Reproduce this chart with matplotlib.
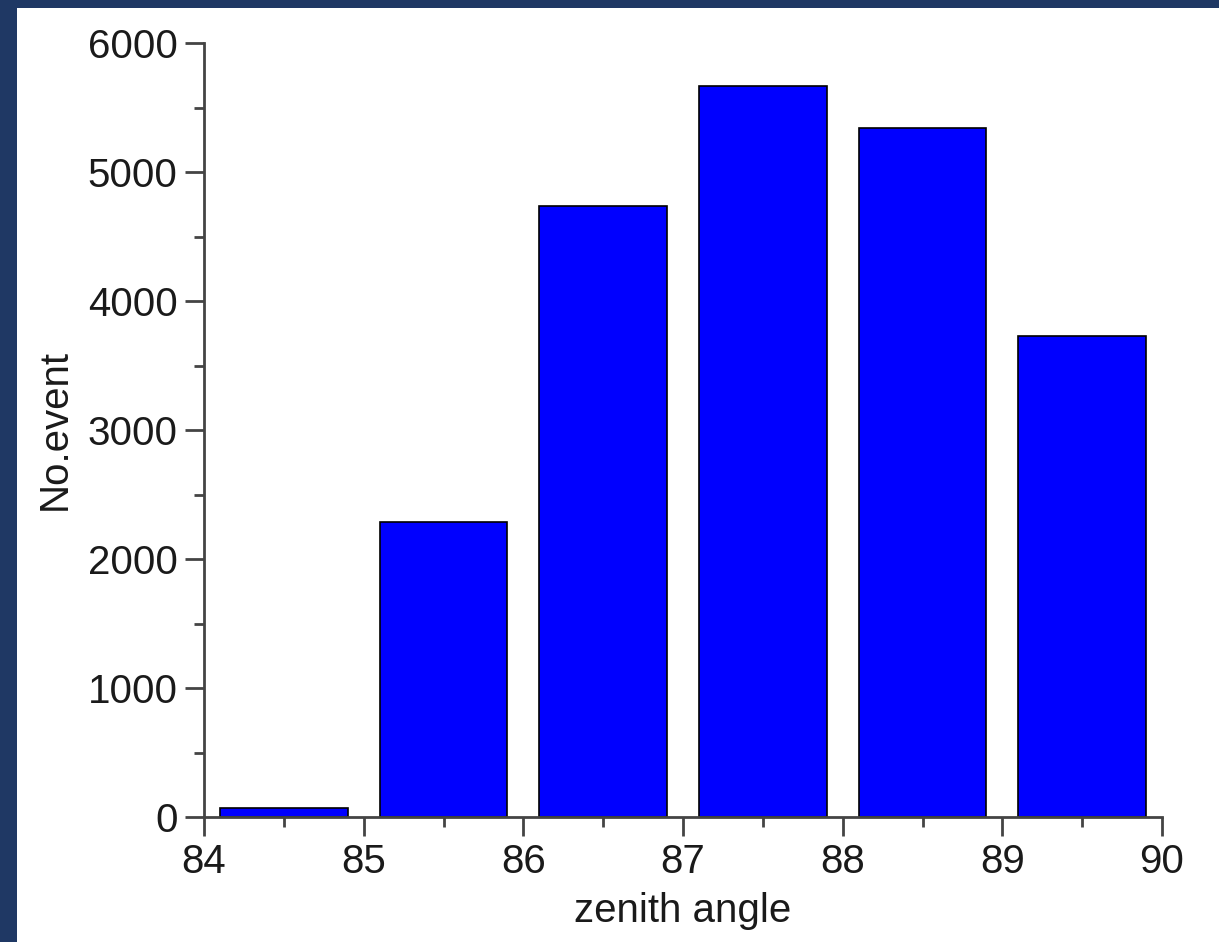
import matplotlib.pyplot as plt
from matplotlib.patches import Rectangle
from matplotlib.ticker import MultipleLocator

plt.rcParams['font.family'] = ['Liberation Sans', 'DejaVu Sans']

zenith = [84.5, 85.5, 86.5, 87.5, 88.5, 89.5]
events = [70, 2290, 4740, 5670, 5340, 3730]

W, H = 1219, 942
fig = plt.figure(figsize=(W / 100, H / 100), dpi=100, facecolor='#1f3864')
# white page inside the navy frame
fig.patches.append(Rectangle((17 / W, 0), 1, 1 - 8 / H, transform=fig.transFigure,
                             facecolor='white', edgecolor='none', zorder=-10))

ax = fig.add_axes([204 / W, 1 - 817 / H, (1162 - 204) / W, (817 - 43) / H])
ax.set_facecolor('none')
ax.bar(zenith, events, width=0.8, color='#0000ff', edgecolor='black', linewidth=1.2)

ax.set_xlim(84, 90)
ax.set_ylim(0, 6000)
ax.xaxis.set_major_locator(MultipleLocator(1))
ax.xaxis.set_minor_locator(MultipleLocator(0.5))
ax.yaxis.set_major_locator(MultipleLocator(1000))
ax.yaxis.set_minor_locator(MultipleLocator(500))

for side in ['top', 'right']:
    ax.spines[side].set_visible(False)
for side in ['left', 'bottom']:
    ax.spines[side].set_color('#444444')
    ax.spines[side].set_linewidth(2)

ax.tick_params(which='major', length=14, width=2, color='#444444',
               labelsize=29, labelcolor='#1a1a1a', pad=5)
ax.tick_params(which='minor', length=7, width=2, color='#444444')

ax.set_xlabel('zenith angle', fontsize=29, color='#1a1a1a', labelpad=8)
ax.set_ylabel('No.event', fontsize=29, color='#1a1a1a', labelpad=10)

plt.savefig('out.png', dpi=100, facecolor=fig.get_facecolor())
